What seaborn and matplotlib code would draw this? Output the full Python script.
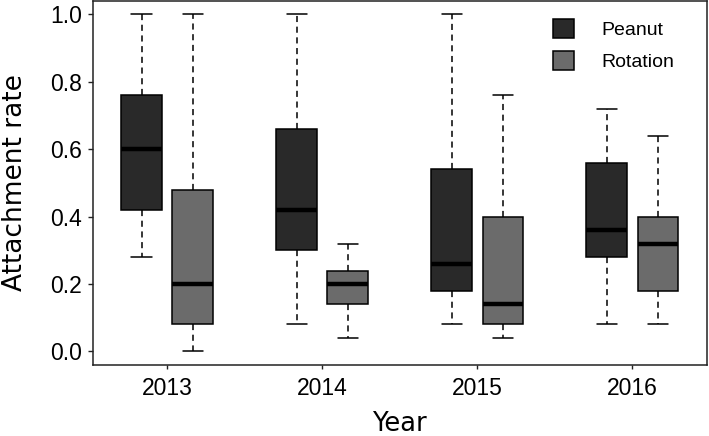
import pandas as pd
import seaborn as sns
from matplotlib import pyplot as plt

# five-number summaries (min, q1, median, q3, max)
years = ['2013', '2014', '2015', '2016']
crops = ['Peanut', 'Rotation']
peanut = [
    [0.28, 0.42, 0.60, 0.76, 1.00],
    [0.08, 0.30, 0.42, 0.66, 1.00],
    [0.08, 0.18, 0.26, 0.54, 1.00],
    [0.08, 0.28, 0.36, 0.56, 0.72],
]
rotation = [
    [0.00, 0.08, 0.20, 0.48, 1.00],
    [0.04, 0.14, 0.20, 0.24, 0.32],
    [0.04, 0.08, 0.14, 0.40, 0.76],
    [0.08, 0.18, 0.32, 0.40, 0.64],
]
yticks = [0.0, 0.2, 0.4, 0.6, 0.8, 1.0]
crop2color = {'Peanut': '#292929', 'Rotation': '#6b6b6b'}

rows = []
for crop, summaries in zip(crops, [peanut, rotation]):
    for year, vals in zip(years, summaries):
        for v in vals:
            rows.append({'Year': year, 'Crop': crop, 'rate': v})
df = pd.DataFrame(rows)

sns.set_style('ticks')
plt.rcParams['font.family'] = ['Liberation Sans', 'DejaVu Sans']
plt.rcParams['text.color'] = 'black'

fig = plt.figure(figsize=(7.09, 4.36), dpi=100)
ax = fig.add_axes([0.131, 0.163, 0.866, 0.835])

sns.boxplot(
    data=df, x='Year', y='rate', hue='Crop', hue_order=crops, order=years,
    palette=crop2color, saturation=1, width=0.66, gap=0.2, whis=(0, 100),
    linecolor='black', linewidth=1.1, ax=ax,
    medianprops=dict(color='black', linewidth=3.2),
    whiskerprops=dict(color='black', linestyle=(0, (4, 3)), linewidth=1.1),
    capprops=dict(color='black', linewidth=1.1),
)

ax.set_xlim(-0.48, 3.48)
ax.set_ylim(-0.04, 1.04)
ax.set_yticks(yticks)
ax.set_yticklabels([f'{t:.1f}' for t in yticks])
ax.tick_params(axis='both', labelsize=16.5, length=3.5, width=1.0,
               color='#222222', labelcolor='black', pad=4.5)
ax.tick_params(axis='x', pad=5.5, length=3)

for side in ['left', 'right', 'top', 'bottom']:
    ax.spines[side].set_visible(True)
    ax.spines[side].set_color('#222222')
    ax.spines[side].set_linewidth(1.1)

ax.set_xlabel('Year', fontsize=18.5, family='DejaVu Sans', labelpad=8, color='black')
ax.set_ylabel('Attachment rate', fontsize=19, family='DejaVu Sans', labelpad=16,
              color='black')

ax.legend(loc='upper right', bbox_to_anchor=(0.975, 0.997), frameon=False,
          fontsize=14, handlelength=1.1, handleheight=1.1, handletextpad=1.4,
          labelspacing=0.6)

fig.savefig('out.png', dpi=100)
